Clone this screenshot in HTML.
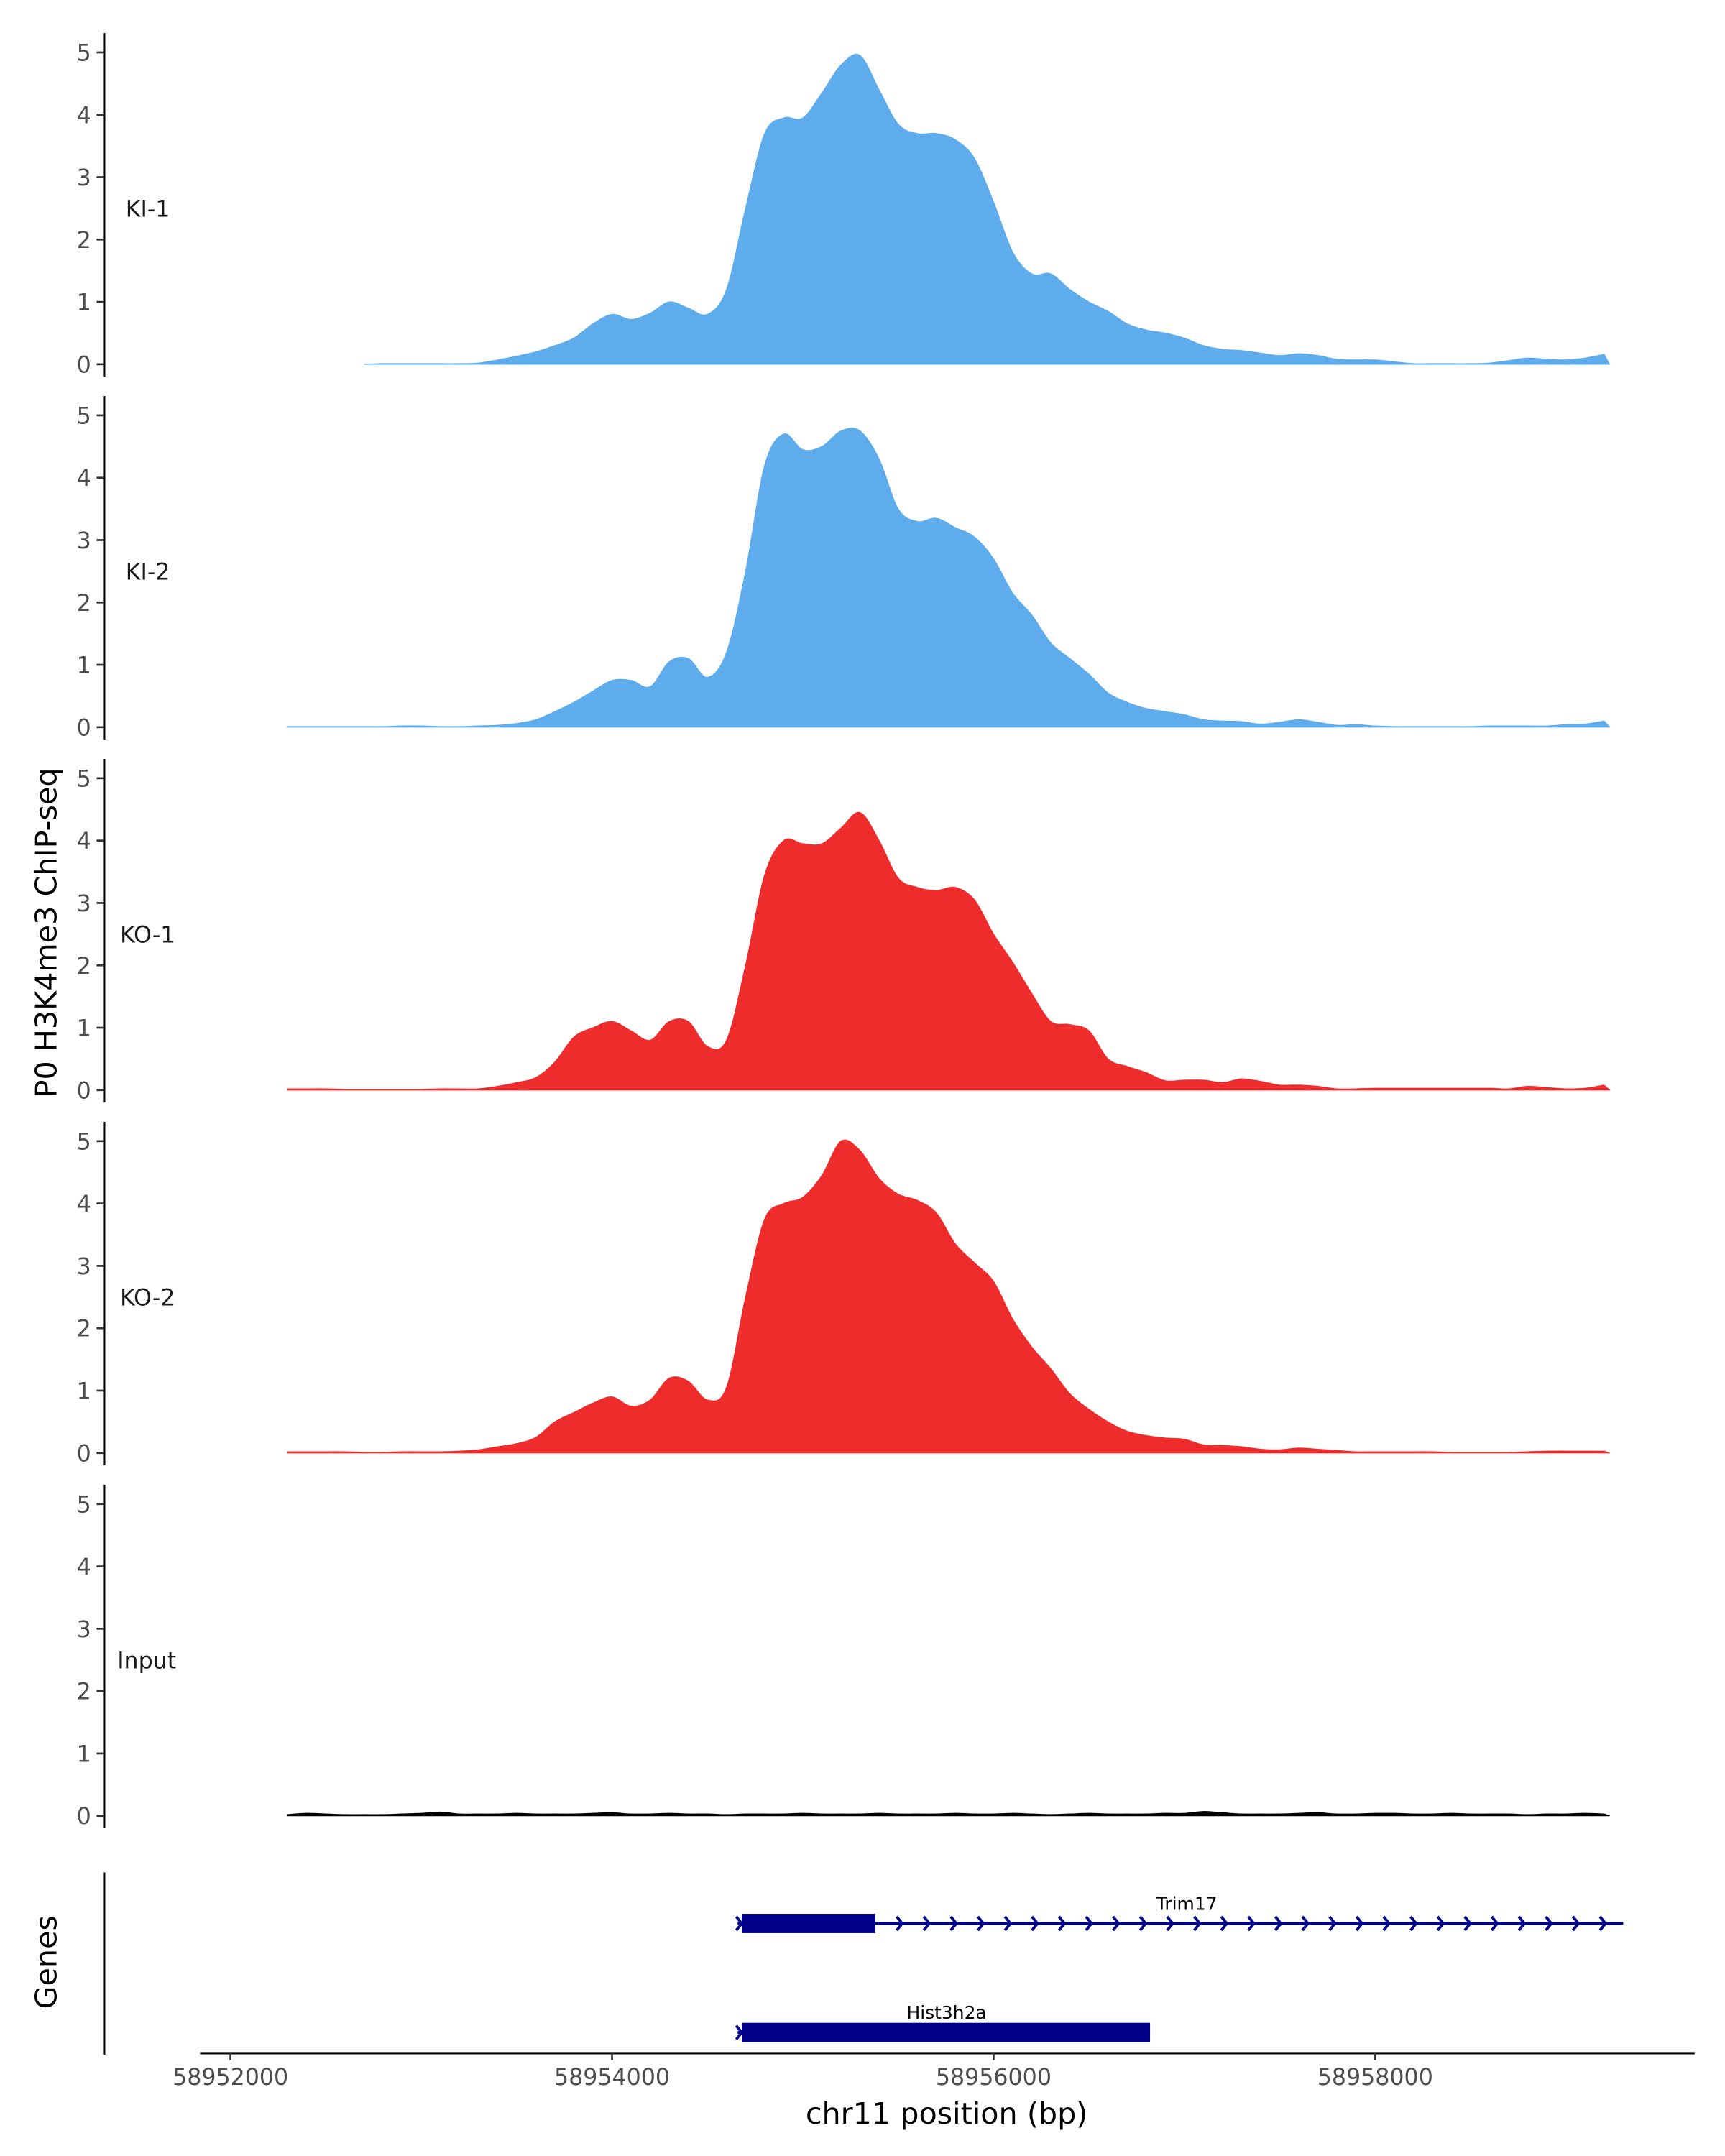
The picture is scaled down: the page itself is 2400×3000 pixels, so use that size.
<!DOCTYPE html>
<html><head><meta charset="utf-8">
<style>
html,body{margin:0;padding:0;background:#fff;}
svg{display:block;font-family:"DejaVu Sans","Liberation Sans",sans-serif;}
</style></head>
<body>
<svg id="chart" xmlns="http://www.w3.org/2000/svg" width="2400" height="3000" viewBox="0 0 1250 1562.5">
<rect width="1250" height="1562.5" fill="#fff"/>
<g id="tracks"></g>
<g id="genes"></g>
<g id="xaxis"></g>
<text transform="translate(41,676) rotate(-90)" text-anchor="middle" font-size="21.5" fill="#000">P0 H3K4me3 ChIP-seq</text>
<text transform="translate(41,1422) rotate(-90)" text-anchor="middle" font-size="21.5" fill="#000">Genes</text>
<text x="686" y="1539" text-anchor="middle" font-size="21.5" fill="#000">chr11 position (bp)</text>
</svg>
<script>
const NS="http://www.w3.org/2000/svg";
const gridStart=58952300, gridStep=100;
const trackNames=["KI-1","KI-2","KO-1","KO-2","Input"];
const trackColors=["#5EACEC","#5EACEC","#EE2C2C","#EE2C2C","#000000"];
const yTicks=[0,1,2,3,4,5];
const xTicks=[58952000,58954000,58956000,58958000];
const ki1=[0,0,0,0,0,0.01,0.01,0.01,0.01,0.01,0.02,0.07,0.13,0.2,0.3,0.42,0.65,0.8,0.72,0.82,1.0,0.9,0.8,1.2,2.5,3.7,3.95,3.95,4.35,4.8,4.95,4.4,3.85,3.7,3.7,3.6,3.3,2.6,1.8,1.45,1.45,1.2,1.0,0.85,0.65,0.55,0.5,0.42,0.3,0.24,0.22,0.18,0.14,0.17,0.14,0.08,0.07,0.07,0.04,0.01,0.01,0.01,0.01,0.02,0.06,0.1,0.08,0.07,0.1,0.16];
const ki2=[0.01,0.01,0.01,0.01,0.01,0.01,0.02,0.02,0.01,0.01,0.02,0.03,0.06,0.12,0.25,0.4,0.58,0.75,0.75,0.65,1.05,1.1,0.8,1.2,2.5,4.2,4.7,4.45,4.5,4.75,4.75,4.3,3.5,3.3,3.35,3.2,3.05,2.7,2.15,1.8,1.35,1.1,0.85,0.55,0.4,0.3,0.25,0.2,0.12,0.1,0.09,0.05,0.08,0.12,0.08,0.03,0.04,0.02,0.01,0.01,0.01,0.01,0.01,0.02,0.02,0.02,0.02,0.04,0.05,0.1];
const ko1=[0.02,0.02,0.02,0.01,0.01,0.01,0.01,0.01,0.02,0.02,0.02,0.06,0.12,0.2,0.45,0.85,1.0,1.1,0.95,0.8,1.1,1.1,0.7,0.8,2.0,3.45,4.0,3.95,3.95,4.2,4.45,4.0,3.4,3.25,3.2,3.25,3.05,2.5,2.05,1.55,1.1,1.05,0.95,0.5,0.38,0.28,0.15,0.16,0.16,0.12,0.18,0.14,0.08,0.08,0.06,0.02,0.02,0.03,0.03,0.03,0.03,0.03,0.03,0.03,0.02,0.06,0.04,0.02,0.03,0.08];
const ko2=[0.02,0.02,0.02,0.02,0.01,0.01,0.02,0.02,0.02,0.03,0.05,0.1,0.15,0.25,0.5,0.65,0.8,0.9,0.75,0.85,1.2,1.15,0.85,1.05,2.5,3.75,4.0,4.1,4.45,5.0,4.85,4.4,4.15,4.05,3.85,3.35,3.05,2.75,2.15,1.7,1.35,0.95,0.7,0.5,0.35,0.28,0.24,0.22,0.13,0.12,0.1,0.06,0.05,0.08,0.06,0.04,0.02,0.02,0.02,0.02,0.02,0.01,0.01,0.01,0.01,0.02,0.03,0.03,0.03,0.03];
const input=[0.02,0.04,0.03,0.02,0.02,0.02,0.03,0.04,0.06,0.03,0.03,0.03,0.04,0.03,0.03,0.03,0.04,0.05,0.03,0.03,0.04,0.03,0.03,0.02,0.03,0.03,0.03,0.04,0.03,0.03,0.03,0.04,0.03,0.03,0.03,0.04,0.03,0.03,0.04,0.03,0.02,0.03,0.04,0.03,0.03,0.03,0.04,0.04,0.07,0.05,0.03,0.03,0.03,0.04,0.05,0.03,0.03,0.04,0.04,0.03,0.03,0.04,0.03,0.03,0.03,0.02,0.03,0.03,0.04,0.03];
const trackValues=[ki1,ki2,ko1,ko2,input];
const trackStartIdx=[4,0,0,0,0];
const geneNames=["Trim17","Hist3h2a"];
const geneStarts=[58954680,58954680];
const geneEnds=[58959300,58956820];
const cdsEnds=[58955380,58956820];

const X0=167, xScale=(720-167)/4000;
function x(bp){return X0+(bp-58952000)*xScale;}
const panelBase0=264, panelStep=263, vScale=45.2;
function y(v,i){return panelBase0+panelStep*i-v*vScale;}
function mk(tag,attrs,parent){const e=document.createElementNS(NS,tag);for(const k in attrs)e.setAttribute(k,attrs[k]);parent.appendChild(e);return e;}

const tracks=document.getElementById('tracks');
trackNames.forEach((name,i)=>{
  const g=mk('g',{},tracks);
  
  
  const base=y(0,i);
  const ax=mk('line',{x1:75.5,x2:75.5,y1:base-240,y2:base+9,stroke:'#000','stroke-width':1.6},g);
  
  
  yTicks.forEach(t=>{
    const tk=mk('line',{x1:70,x2:75.5,y1:y(t,i),y2:y(t,i),stroke:'#333','stroke-width':1.4},g);
    
    
    const tl=mk('text',{x:66,y:y(t,i)+6,'text-anchor':'end','font-size':16.5,fill:'#4d4d4d'},g);
    tl.textContent=t;
    
    
  });
  const lab=mk('text',{x:name==='Input'?85:(name.startsWith('KO')?87:91),y:y(2.5,i)+6,'font-size':16.5,fill:'#1a1a1a'},g);
  lab.textContent=name;
  
  
  const vals=trackValues[i];
  const pts=[];
  for(let k=trackStartIdx[i];k<vals.length;k++)pts.push([x(gridStart+k*gridStep),y(vals[k],i)]);
  let d='M'+pts[0][0]+','+base+' L'+pts[0][0]+','+pts[0][1];
  for(let k=0;k<pts.length-1;k++){
    const p0=pts[Math.max(0,k-1)],p1=pts[k],p2=pts[k+1],p3=pts[Math.min(pts.length-1,k+2)];
    const c1x=p1[0]+(p2[0]-p0[0])/6,c1y=Math.min(base,p1[1]+(p2[1]-p0[1])/6);
    const c2x=p2[0]-(p3[0]-p1[0])/6,c2y=Math.min(base,p2[1]-(p3[1]-p1[1])/6);
    d+=' C'+c1x+','+c1y+' '+c2x+','+c2y+' '+p2[0]+','+p2[1];
  }
  const last=pts[pts.length-1];
  d+=' L'+(last[0]+4)+','+base+' Z';
  const area=mk('path',{d:d,fill:trackColors[i],stroke:trackColors[i],'stroke-width':0.6},g);
  
  
});

const genes=document.getElementById('genes');
const gax=mk('line',{x1:75.5,x2:75.5,y1:1357,y2:1489,stroke:'#000','stroke-width':1.6},genes);


const geneY=[1394,1473];
geneNames.forEach((nm,i)=>{
  const g=mk('g',{},genes);
  
  
  const xs=x(geneStarts[i]), xe=x(geneEnds[i]), yc=geneY[i];
  mk('line',{x1:xs-3,x2:xe,y1:yc,y2:yc,stroke:'#00008B','stroke-width':2},g);
  mk('rect',{x:xs,y:yc-7,width:x(cdsEnds[i])-xs,height:14,fill:'#00008B'},g);
  mk('path',{d:`M${xs-4},${yc-5} L${xs},${yc} L${xs-4},${yc+5}`,fill:'none',stroke:'#00008B','stroke-width':2},g);
  for(let cx=x(cdsEnds[i])+19.5;cx<=xe+1;cx+=19.6){
    mk('path',{d:`M${cx-4},${yc-5} L${cx},${yc} L${cx-4},${yc+5}`,fill:'none',stroke:'#00008B','stroke-width':2},g);
  }
  const t=mk('text',{x:i===0?860:686,y:yc-10,'text-anchor':'middle','font-size':13,fill:'#000'},g);
  t.textContent=nm;
  
  
});

const xa=document.getElementById('xaxis');
const xl=mk('line',{x1:145,x2:1228,y1:1488,y2:1488,stroke:'#000','stroke-width':1.6},xa);


xTicks.forEach(t=>{
  const tk=mk('line',{x1:x(t),x2:x(t),y1:1488,y2:1493,stroke:'#333','stroke-width':1.4},xa);
  
  
  const tl=mk('text',{x:x(t),y:1511,'text-anchor':'middle','font-size':16.5,fill:'#4d4d4d'},xa);
  tl.textContent=t;
  
  
});
</script>
</body></html>
